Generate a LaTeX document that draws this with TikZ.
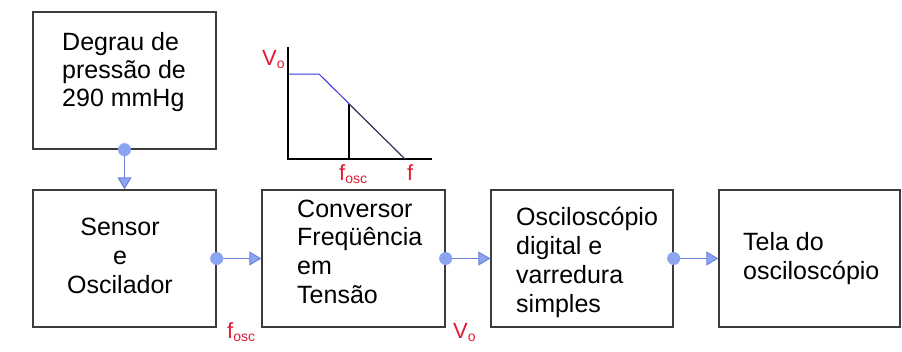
\documentclass[tikz,border=0pt]{standalone}
\usepackage{fontspec}
\setmainfont{Liberation Sans}
\usetikzlibrary{arrows.meta}
\definecolor{boxline}{RGB}{60,60,60}
\definecolor{connline}{RGB}{110,130,220}
\definecolor{connfill}{RGB}{140,165,240}
\definecolor{lblred}{RGB}{225,25,55}
\definecolor{curveblue}{RGB}{50,50,220}
\newcommand{\subsc}[1]{{\fontsize{14}{14}\selectfont\raisebox{-3pt}{#1}}}
\begin{document}
\begin{tikzpicture}[x=1pt,y=-1pt,
  blk/.style={draw=boxline,line width=1.3pt,minimum width=183pt,minimum height=137pt,inner sep=0pt},
  txt/.style={font=\fontsize{25}{28}\selectfont,inner sep=0pt,anchor=base west},
  ctxt/.style={font=\fontsize{25}{28}\selectfont,inner sep=0pt,anchor=base},
  lbl/.style={font=\fontsize{22}{24}\selectfont,text=lblred,inner sep=0pt,anchor=base west},
  conn/.style={draw=connline,line width=1pt,shorten <=-6.5pt,
    {Circle[length=13pt,fill=connfill,color=connfill]}-{Triangle[width=14pt,length=12pt,fill=connfill,color=connline]}}]
\useasboundingbox (0,0) rectangle (902,351);
% boxes
\node[blk] (top) at (124.5,80.5) {};
\node[blk] (b1) at (124.5,258.5) {};
\node[blk] (b2) at (353.5,258.5) {};
\node[blk,minimum width=182pt] (b3) at (582,258.5) {};
\node[blk,minimum width=181pt] (b4) at (809.5,258.5) {};
% texts
\node[txt] (t0a) at (62,50) {Degrau de};
\node[txt] (t0b) at (62,78) {pressão de};
\node[txt] (t0c) at (62,106) {290 mmHg};
\node[ctxt] (t1a) at (120,235) {Sensor};
\node[ctxt] (t1b) at (120,264) {e};
\node[ctxt] (t1c) at (120,293) {Oscilador};
\node[txt] (t2a) at (297,217) {Conversor};
\node[txt] (t2b) at (297,245) {Freqüência};
\node[txt] (t2c) at (297,274) {em};
\node[txt] (t2d) at (297,303) {Tensão};
\node[txt] (t3a) at (516,225) {Osciloscópio};
\node[txt] (t3b) at (516,254) {digital e};
\node[txt] (t3c) at (516,283) {varredura};
\node[txt] (t3d) at (516,312) {simples};
\node[txt] (t4a) at (743,250) {Tela do};
\node[txt] (t4b) at (743,279) {osciloscópio};
% connectors
\draw[conn] (top.south) -- (b1.north);
\draw[conn] (b1.east) -- (b2.west);
\draw[conn] (b2.east) -- (b3.west);
\draw[conn] (b3.east) -- (b4.west);
% connector labels
\node[lbl] (lf) at (227,338) {f\subsc{osc}};
\node[lbl] (lv) at (453,338) {V\subsc{o}};
% graph
\draw[black,line width=1.8pt] (288,47) -- (288,159) -- (432,159);
\draw[curveblue,line width=1pt] (289,74) -- (319,74) -- (405,159);
\draw[black,line width=1.2pt] (349,104) -- (349,159);
\draw[black!75,line width=1pt] (349,104) -- (405,159);
\node[lbl] (gv) at (262,65) {V\subsc{o}};
\node[lbl] (gf) at (339,180) {f\subsc{osc}};
\node[lbl] (gf2) at (407,180) {f};
\end{tikzpicture}
\end{document}
